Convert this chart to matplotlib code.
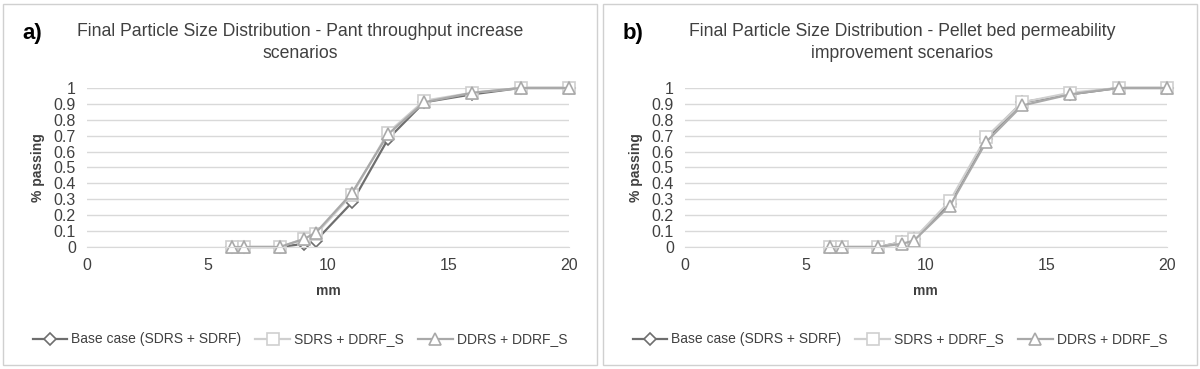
import matplotlib
matplotlib.use("Agg")
import matplotlib.pyplot as plt
from matplotlib.patches import Rectangle

plt.rcParams['font.family'] = ['Liberation Sans', 'DejaVu Sans']

# sieve sizes (mm)
sizes = [6, 6.5, 8, 9, 9.5, 11, 12.5, 14, 16, 18, 20]

series_names = ["Base case (SDRS + SDRF)", "SDRS + DDRF_S", "DDRS + DDRF_S"]

# panel a) plant throughput increase
a_base = [0, 0, 0, 0.02, 0.04, 0.28, 0.68, 0.91, 0.96, 1, 1]
a_sdrs = [0, 0, 0, 0.05, 0.08, 0.33, 0.72, 0.92, 0.97, 1, 1]
a_ddrs = [0, 0, 0, 0.05, 0.09, 0.34, 0.71, 0.91, 0.97, 1, 1]

# panel b) pellet bed permeability
b_base = [0, 0, 0, 0.03, 0.05, 0.27, 0.68, 0.91, 0.96, 1, 1]
b_sdrs = [0, 0, 0, 0.03, 0.05, 0.29, 0.69, 0.91, 0.97, 1, 1]
b_ddrs = [0, 0, 0, 0.02, 0.04, 0.26, 0.66, 0.89, 0.96, 1, 1]

titles = ["Final Particle Size Distribution - Pant throughput increase\nscenarios",
          "Final Particle Size Distribution - Pellet bed permeability\nimprovement scenarios"]
letters = ["a)", "b)"]

styles = [("#6e6e6e", "D", 6), ("#cfcfcf", "s", 8.5), ("#a9a9a9", "^", 8.5)]

fig = plt.figure(figsize=(12, 3.69), dpi=100)

# (panel left, axes left, title centre x, data)
panels = [(0.0025, 0.0725, 0.25, [a_base, a_sdrs, a_ddrs]),
          (0.5025, 0.5708, 0.752, [b_base, b_sdrs, b_ddrs])]

for k, (px, ax_left, tx, data) in enumerate(panels):
    fig.patches.append(Rectangle((px, 0.01), 0.495, 0.98, transform=fig.transFigure,
                                 fill=False, edgecolor="#d0d0d0", linewidth=1))
    ax = fig.add_axes([ax_left, 0.3306, 0.4015, 0.431])
    handles = []
    for vals, (col, mk, ms), name in zip(data, styles, series_names):
        h, = ax.plot(sizes, vals, color=col, marker=mk, markersize=ms,
                     markerfacecolor="white", markeredgecolor=col,
                     markeredgewidth=1.2, linewidth=1.6, label=name, clip_on=False)
        handles.append(h)
    ax.set_xlim(0, 20)
    ax.set_ylim(0, 1)
    ax.set_xticks([0, 5, 10, 15, 20])
    ax.set_yticks([i / 10 for i in range(11)])
    ax.set_yticklabels(["0"] + ["0.%d" % i for i in range(1, 10)] + ["1"])
    ax.grid(axis="y", color="#d9d9d9", linewidth=1)
    ax.set_axisbelow(True)
    for s in ["top", "right", "left"]:
        ax.spines[s].set_visible(False)
    ax.spines["bottom"].set_color("#d9d9d9")
    ax.tick_params(length=0, labelsize=11.5, colors="#404040", pad=8)
    ax.set_xlabel("mm", fontsize=10, fontweight="bold", color="#404040", labelpad=8)
    ax.set_ylabel("% passing", fontsize=10, fontweight="bold", color="#404040", labelpad=6)
    fig.text(tx, 0.885, titles[k], fontsize=12.7, color="#404040",
             ha="center", va="center", linespacing=1.45)
    fig.text(px + 0.016, 0.895, letters[k], fontsize=16, fontweight="bold")
    fig.legend(handles=handles, loc="center", bbox_to_anchor=(px + 0.2475, 0.08),
               ncol=3, frameon=False, fontsize=10, handlelength=2.5,
               columnspacing=1.0, handletextpad=0.3, labelcolor="#404040")

fig.savefig("out.png", dpi=100)
